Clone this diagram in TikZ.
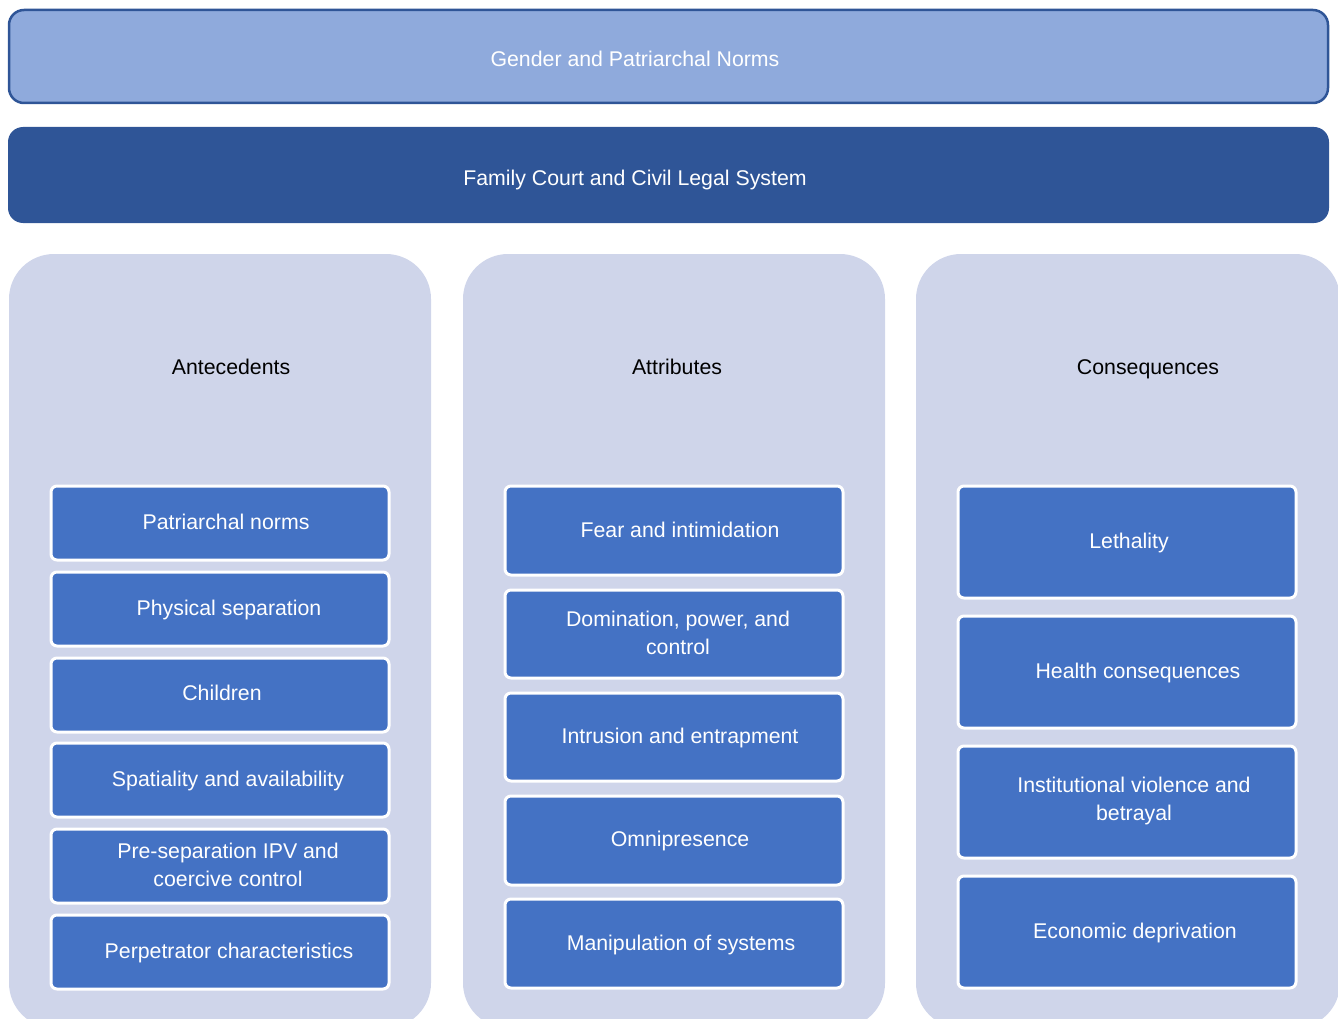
\documentclass[tikz,border=0pt]{standalone}
\usepackage{fontspec}
\setmainfont{Liberation Sans}
\definecolor{topfill}{HTML}{8FAADC}
\definecolor{topline}{HTML}{2F5597}
\definecolor{courtfill}{HTML}{2F5597}
\definecolor{panelfill}{HTML}{CFD5EA}
\definecolor{boxfill}{HTML}{4472C4}
\begin{document}
\begin{tikzpicture}[x=1pt,y=-1pt,
  every node/.style={font=\fontsize{21.3}{28}\selectfont, align=center, inner sep=0pt},
  lbl/.style={text height=15.5pt, text depth=0pt},
  banner/.style={rectangle, rounded corners=15pt, text=white},
  panel/.style={rectangle, rounded corners=45pt, fill=panelfill, minimum width=422pt},
  abox/.style={rectangle, rounded corners=6pt, fill=boxfill, draw=white, line width=3pt, text=white, minimum width=338pt},
  header/.style={lbl, text=black}
]
\useasboundingbox (0,0) rectangle (1338,1019);
\clip (0,0) rectangle (1338,1019);

\node[banner, fill=topfill, draw=topline, line width=2.5pt, minimum width=1319pt, minimum height=93pt] (gender) at (668.5,56.5) {};
\node[lbl, text=white] (gendertxt) at (635,59) {Gender and Patriarchal Norms};
\node[banner, fill=courtfill, minimum width=1321pt, minimum height=96pt] (court) at (668.5,175) {};
\node[lbl, text=white] (courttxt) at (635,178) {Family Court and Civil Legal System};

\node[panel, minimum height=774pt] (p1) at (220,641) {};
\node[panel, minimum height=774pt] (p2) at (674,641) {};
\node[panel, minimum height=774pt, minimum width=424pt] (p3) at (1128,641) {};

\node[header] (h1) at (231,367) {Antecedents};
\node[header] (h2) at (677,367) {Attributes};
\node[header] (h3) at (1148,367) {Consequences};

% Antecedents
\node[abox, minimum height=74pt] (a1) at (220,523) {};
\node[lbl, text=white] at (226,522) {Patriarchal norms};
\node[abox, minimum height=74pt] (a2) at (220,609) {};
\node[lbl, text=white] at (229,608) {Physical separation};
\node[abox, minimum height=74pt] (a3) at (220,695) {};
\node[lbl, text=white] at (222,693) {Children};
\node[abox, minimum height=74pt] (a4) at (220,780) {};
\node[lbl, text=white] at (228,779) {Spatiality and availability};
\node[abox, minimum height=74pt] (a5) at (220,866) {};
\node[text=white] at (228,865) {Pre-separation IPV and\\coercive control};
\node[abox, minimum height=74pt] (a6) at (220,952) {};
\node[lbl, text=white] at (229,951) {Perpetrator characteristics};

% Attributes
\node[abox, minimum height=89pt] (b1) at (674,530.5) {};
\node[lbl, text=white] at (680,530) {Fear and intimidation};
\node[abox, minimum height=88pt] (b2) at (674,634) {};
\node[text=white] at (678,633) {Domination, power, and\\control};
\node[abox, minimum height=88pt] (b3) at (674,737) {};
\node[lbl, text=white] at (680,736) {Intrusion and entrapment};
\node[abox, minimum height=89pt] (b4) at (674,840.5) {};
\node[lbl, text=white] at (680,839) {Omnipresence};
\node[abox, minimum height=89pt] (b5) at (674,943.5) {};
\node[lbl, text=white] at (681,943) {Manipulation of systems};

% Consequences
\node[abox, minimum height=112pt] (c1) at (1127,542) {};
\node[lbl, text=white] at (1129,541) {Lethality};
\node[abox, minimum height=112pt] (c2) at (1127,672) {};
\node[lbl, text=white] at (1138,671) {Health consequences};
\node[abox, minimum height=112pt] (c3) at (1127,802) {};
\node[text=white] at (1134,801) {Institutional violence and\\betrayal};
\node[abox, minimum height=112pt] (c4) at (1127,932) {};
\node[lbl, text=white] at (1135,931) {Economic deprivation};
\end{tikzpicture}
\end{document}
